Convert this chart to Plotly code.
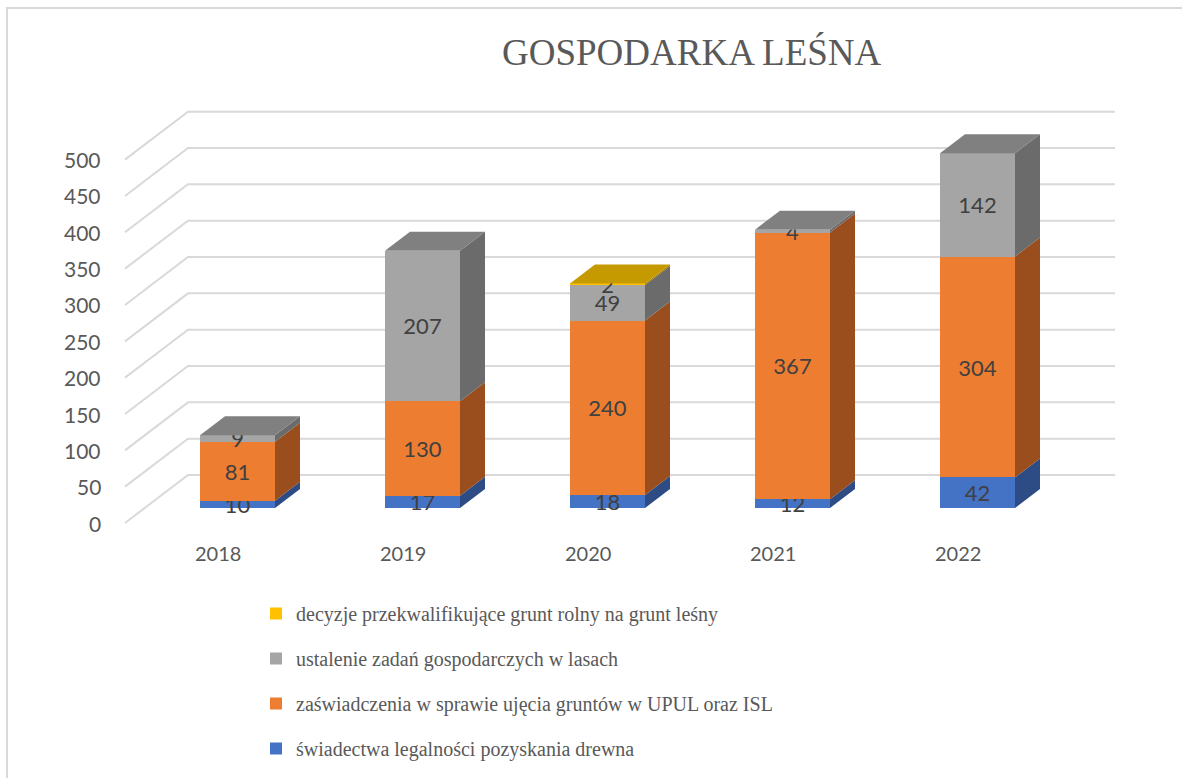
import plotly.graph_objects as go

# --- data -----------------------------------------------------------------
years = ["2018", "2019", "2020", "2021", "2022"]
swiadectwa = [10, 17, 18, 12, 42]
zaswiadczenia = [81, 130, 240, 367, 304]
ustalenie = [9, 207, 49, 4, 142]
decyzje = [0, 0, 2, 0, 0]
tick_values = [0, 50, 100, 150, 200, 250, 300, 350, 400, 450, 500]

# name, values, front / side / top colour, legend rank
series = [
    ("świadectwa legalności pozyskania drewna", swiadectwa, "#4472c4", "#2d4c86", "#37599b", 4),
    ("zaświadczenia w sprawie ujęcia gruntów w UPUL oraz ISL", zaswiadczenia, "#ed7d31", "#9a4e1d", "#b9621f", 3),
    ("ustalenie zadań gospodarczych w lasach", ustalenie, "#a5a5a5", "#6b6b6b", "#808080", 2),
    ("decyzje przekwalifikujące grunt rolny na grunt leśny", decyzje, "#ffc000", "#a67d00", "#c49a00", 1),
]

# --- pseudo-3D geometry (axis units: 1 x-unit = category step, y in values) -
W, H = 1182, 778
PX_X = 185.0          # pixels per category step
PX_Y = 0.7267         # pixels per value unit
X0_PX, Y0_PX = 237.5, 508.0   # pixel of first bar centre / bar base

def xu(px):  # pixel offset -> x units
    return px / PX_X

def yu(px):  # pixel offset -> y units (upwards positive)
    return px / PX_Y

bar_w = xu(75)
bar_dx, bar_dy = xu(25), yu(19)          # bar depth
front_dy = yu(-15)                       # front plane relative to bar face
back_dy = yu(33)                         # back wall relative to bar face
floor_left = xu(125 - X0_PX)
wall_left = xu(188 - X0_PX)
wall_right = xu(1115 - X0_PX)
label_dx = xu(-19.5)

xs = list(range(len(years)))

fig = go.Figure()

# gridlines: diagonal on the side floor plus horizontal on the back wall
shapes = []
for v in tick_values:
    shapes.append(dict(type="path", xref="x", yref="y", layer="below",
                       path=f"M{floor_left},{v + front_dy} L{wall_left},{v + back_dy} L{wall_right},{v + back_dy}",
                       line=dict(color="#d9d9d9", width=2)))

# chart frame
shapes.append(dict(type="rect", xref="paper", yref="paper",
                   x0=7 / W, x1=1.02, y0=-0.02, y1=1 - 8 / H,
                   line=dict(color="#d9d9d9", width=2), layer="below"))

# front faces (stacked bars)
for name, vals, c_front, c_side, c_top, rank in series:
    fig.add_trace(go.Bar(
        x=xs, y=vals, name=name, width=bar_w,
        marker=dict(color=c_front, line=dict(width=0)),
        text=[str(v) if v else "" for v in vals],
        textposition="inside", insidetextanchor="middle",
        constraintext="none", textangle=0,
        textfont=dict(family="Lato", size=22, color="#404040"),
        legendgroup=name, legendrank=rank, hoverinfo="skip",
    ))

# side faces
base = [0] * len(years)
tops = [None] * len(years)
for name, vals, c_front, c_side, c_top, rank in series:
    px, py = [], []
    for i, v in enumerate(vals):
        if v <= 0:
            continue
        y0, y1 = base[i], base[i] + v
        xr = i + bar_w / 2
        px += [xr, xr + bar_dx, xr + bar_dx, xr, xr, None]
        py += [y0, y0 + bar_dy, y1 + bar_dy, y1, y0, None]
        base[i] = y1
        tops[i] = c_top
    fig.add_trace(go.Scatter(x=px, y=py, mode="lines", fill="toself",
                             fillcolor=c_side, line=dict(width=0, color=c_side),
                             showlegend=False, hoverinfo="skip"))

# top faces, coloured by the uppermost segment of each column
for i in xs:
    xl, xr = i - bar_w / 2, i + bar_w / 2
    t = base[i]
    fig.add_trace(go.Scatter(
        x=[xl, xl + bar_dx, xr + bar_dx, xr, xl],
        y=[t, t + bar_dy, t + bar_dy, t, t],
        mode="lines", fill="toself", fillcolor=tops[i],
        line=dict(width=0, color=tops[i]), showlegend=False, hoverinfo="skip"))

annotations = []
# value axis labels on the front plane
for v in tick_values:
    annotations.append(dict(x=xu(103 - X0_PX), y=v + front_dy, xref="x", yref="y",
                            text=str(v), showarrow=False, xanchor="right", yanchor="middle",
                            font=dict(family="Lato", size=21, color="#595959")))
# category labels
for i, yr in enumerate(years):
    annotations.append(dict(x=i + label_dx, y=front_dy + yu(-30), xref="x", yref="y",
                            text=yr, showarrow=False, xanchor="center", yanchor="middle",
                            font=dict(family="Lato", size=20, color="#595959")))
# title
annotations.append(dict(x=691.5 / W, y=1 - 53 / H, xref="paper", yref="paper",
                        text="GOSPODARKA LEŚNA", showarrow=False,
                        xanchor="center", yanchor="middle",
                        font=dict(family="Liberation Serif", size=37, color="#595959")))

fig.update_layout(
    width=W, height=H,
    margin=dict(l=0, r=0, t=0, b=0),
    paper_bgcolor="white", plot_bgcolor="white",
    barmode="stack",
    xaxis=dict(range=[xu(-X0_PX), xu(W - X0_PX)], visible=False, fixedrange=True),
    yaxis=dict(range=[yu(Y0_PX - H), yu(Y0_PX)], visible=False, fixedrange=True),
    shapes=shapes, annotations=annotations,
    showlegend=True,
    legend=dict(x=256 / W, y=1 - 594 / H, xanchor="left", yanchor="top",
                traceorder="grouped", tracegroupgap=16,
                font=dict(family="Liberation Serif", size=20, color="#595959"),
                itemwidth=30, bgcolor="rgba(0,0,0,0)"),
)

fig.write_html("out.html")
